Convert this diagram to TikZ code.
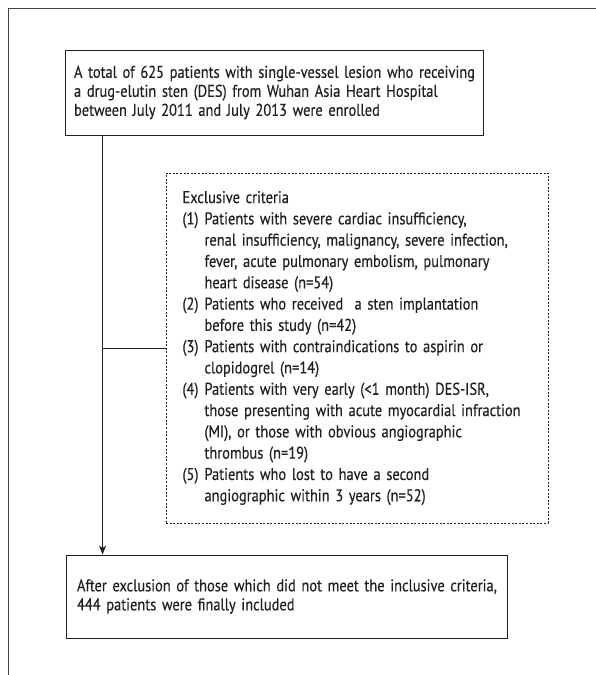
\documentclass[tikz,border=0pt]{standalone}
\usepackage{fontspec}
\setmainfont[FakeStretch=0.85, FakeBold=0.4]{PT Sans}
\usetikzlibrary{arrows.meta}
\definecolor{ink}{HTML}{231F20}
\newcommand{\myline}[1]{\mbox{#1}}
\begin{document}
\begin{tikzpicture}[x=1pt,y=-1pt,
  every node/.style={text=ink},
  solidbox/.style={draw=ink, line width=0.9pt, align=left, inner ysep=0pt,
     font=\fontsize{17}{19}\selectfont},
  dotbox/.style={draw=ink, line width=0.9pt, dash pattern=on 2pt off 1.6pt, align=left, inner ysep=0pt,
     font=\fontsize{17}{21.3}\selectfont},
  conn/.style={draw=ink, line width=0.9pt},
  arr/.style={conn, -{Stealth[length=9pt, width=7pt, inset=2.5pt]}},
  frameline/.style={draw=ink!85, line width=0.9pt}]
\useasboundingbox (0,0) rectangle (596,675);
% outer frame (partial)
\coordinate (f1) at (8.5,675);
\coordinate (f2) at (8.5,8.5);
\coordinate (f3) at (596,8.5);
\draw[frameline] (f1) -- (f2) -- (f3);

\node[solidbox, text width=400pt, inner xsep=9pt, minimum width=418pt, minimum height=85pt]
  (top) at (274,92.5)
  {\myline{A total of 625 patients with single-vessel lesion who receiving}\\
   \myline{a drug-elutin sten (DES) from Wuhan Asia Heart Hospital}\\
   \myline{between July 2011 and July 2013 were enrolled}};

\newcommand{\lbl}[1]{\makebox[22pt][l]{#1}}
\newcommand{\ind}{\hspace*{22pt}}
\node[dotbox, text width=349pt, inner xsep=16.5pt, minimum width=382pt, minimum height=350pt]
  (excl) at (357,348)
  {\myline{Exclusive criteria}\\
   \myline{\lbl{(1)}Patients with severe cardiac insufficiency,}\\
   \myline{\ind renal insufficiency, malignancy, severe infection,}\\
   \myline{\ind fever, acute pulmonary embolism, pulmonary}\\
   \myline{\ind heart disease (n=54)}\\
   \myline{\lbl{(2)}Patients who received\ \ a sten implantation}\\
   \myline{\ind before this study (n=42)}\\
   \myline{\lbl{(3)}Patients with contraindications to aspirin or}\\
   \myline{\ind clopidogrel (n=14)}\\
   \myline{\lbl{(4)}Patients with very early (<1 month) DES-ISR,}\\
   \myline{\ind those presenting with acute myocardial infraction}\\
   \myline{\ind (MI), or those with obvious angiographic}\\
   \myline{\ind thrombus (n=19)}\\
   \myline{\lbl{(5)}Patients who lost to have a second}\\
   \myline{\ind angiographic within 3 years (n=52)}};

\node[solidbox, text width=419pt, inner xsep=11pt, minimum width=441pt, minimum height=83pt]
  (bot) at (286.5,596.5)
  {\myline{After exclusion of those which did not meet the inclusive criteria,}\\
   \myline{444 patients were finally included}};

\path (top.south west) ++(38,0) coordinate (s);
\draw[arr] (s) -- (s |- bot.north);
\draw[conn] (s |- excl.west) -- (excl.west);
\end{tikzpicture}
\end{document}
